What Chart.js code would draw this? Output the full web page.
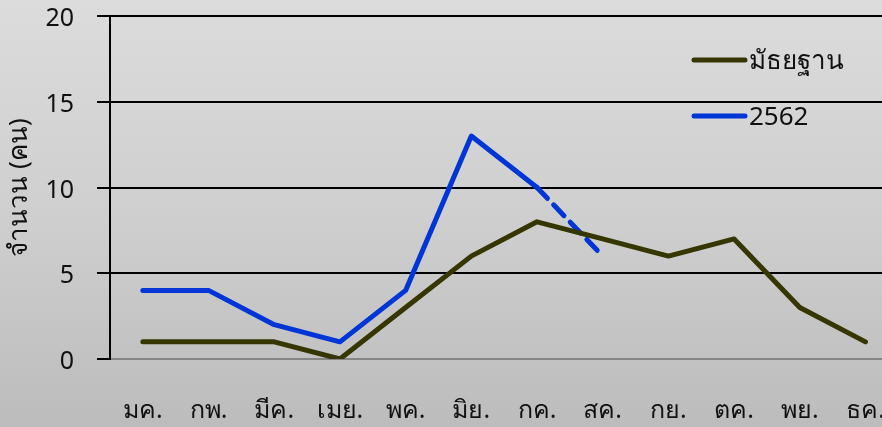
<!DOCTYPE html>
<html>
<head>
<meta charset="utf-8">
<script src="https://cdn.jsdelivr.net/npm/chart.js@4.4.0/dist/chart.umd.min.js"></script>
<style>
html,body{margin:0;padding:0;overflow:hidden;width:882px;height:427px;}
body{background:linear-gradient(to bottom,#dcdcdc 0%,#cfcfcf 50%,#bcbcbc 100%);}
#wrap{position:absolute;left:0;top:-22px;width:922px;height:449px;}
</style>
</head>
<body>
<div id="wrap"><canvas id="grafica" width="922" height="449"></canvas></div>
<script>
var meses = ['มค.','กพ.','มีค.','เมย.','พค.','มิย.','กค.','สค.','กย.','ตค.','พย.','ธค.'];
var mediana = [1,1,1,0,3,6,8,7,6,7,3,1];
var datos2562 = [4,4,2,1,4,13,10,6,null,null,null,null];
var etiquetas = ['มัธยฐาน','2562'];
var colores = ['#363600','#0036d6'];

var fuente = "'Noto Sans', 'DejaVu Sans', sans-serif";

// leyenda dibujada dentro del area
var leyenda = {
    id:'leyenda',
    afterDraw:function(chart){
        var ctx = chart.ctx;
        ctx.save();
        chart.data.datasets.forEach(function(ds,i){
            var y = 82 + i*56;
            ctx.strokeStyle = ds.borderColor;
            ctx.lineWidth = 5;
            ctx.lineCap = 'round';
            ctx.beginPath();
            ctx.moveTo(694,y);
            ctx.lineTo(745,y);
            ctx.stroke();
            ctx.fillStyle = '#111';
            ctx.font = '26px ' + fuente;
            ctx.textBaseline = 'middle';
            ctx.fillText(ds.label,749,y+2);
        });
        ctx.restore();
    }
};

var grafica = document.getElementById('grafica').getContext('2d');
var chart = new Chart(grafica,{
    type:'line',
    data:{
        labels:meses,
        datasets:[{
            label:etiquetas[0],
            data:mediana,
            borderColor:colores[0],
            backgroundColor:colores[0],
            borderWidth:5,
            pointRadius:0,
            tension:0,
            borderCapStyle:'round',
            borderJoinStyle:'round'
        },{
            label:etiquetas[1],
            data:datos2562,
            borderColor:colores[1],
            backgroundColor:colores[1],
            borderWidth:5,
            pointRadius:0,
            tension:0,
            borderCapStyle:'round',
            borderJoinStyle:'round',
            segment:{
                borderDash:function(c){ return c.p0DataIndex === 6 ? [15,9] : undefined; }
            }
        }]
    },
    options:{
        responsive:false,
        animation:false,
        devicePixelRatio:1,
        layout:{padding:{top:15,right:4,left:0,bottom:0}},
        plugins:{legend:{display:false},tooltip:{enabled:false}},
        scales:{
            x:{
                offset:true,
                grid:{display:true,drawOnChartArea:false,drawTicks:false},
                border:{display:true,color:'#858585',width:2},
                ticks:{color:'#111',font:{family:fuente,size:25},padding:37,maxRotation:0,autoSkip:false},
                afterFit:function(s){ s.height = 68; }
            },
            y:{
                min:0,max:20,
                ticks:{stepSize:5,color:'#111',font:{family:fuente,size:25},padding:23,labelOffset:3},
                grid:{
                    color:function(c){ return c.tick && c.tick.value === 0 ? '#858585' : '#000'; },
                    lineWidth:2,
                    tickLength:13,
                    tickColor:'#000'
                },
                border:{display:true,color:'#000',width:2},
                title:{display:true,text:'จำนวน (คน)',color:'#111',font:{family:fuente,size:26},padding:{top:4,bottom:0}},
                afterFit:function(s){ s.width = 110; }
            }
        }
    },
    plugins:[leyenda]
});
</script>
</body>
</html>
